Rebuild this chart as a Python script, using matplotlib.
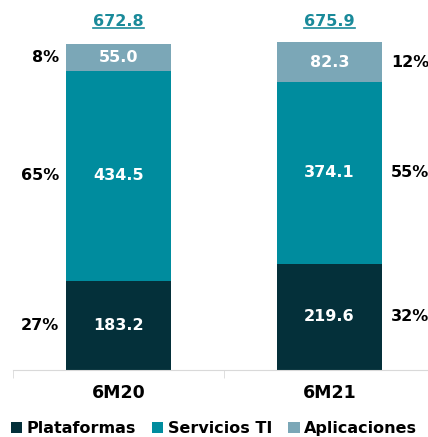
import matplotlib
matplotlib.use("Agg")
from matplotlib import pyplot as plt
from matplotlib.lines import Line2D
import numpy as np

periods = ["6M20", "6M21"]
plataformas = [183.2, 219.6]
servicios = [434.5, 374.1]
aplicaciones = [55.0, 82.3]
totals = ["672.8", "675.9"]
pct_plat = ["27%", "32%"]
pct_serv = ["65%", "55%"]
pct_apl = ["8%", "12%"]

c_plat = "#04303a"
c_serv = "#008c9e"
c_apl = "#7ba7b7"
c_total = "#1a8a9a"

plt.rcParams["font.family"] = ["DejaVu Sans"]

fig = plt.figure(figsize=(4.28, 4.37), dpi=100)
ax = fig.add_axes([13 / 428, 67 / 437, 422 / 428, 339.2 / 437])

x = np.arange(len(periods))
w = 0.5
plat = np.array(plataformas)
serv = np.array(servicios)
apl = np.array(aplicaciones)

ax.bar(x, plat, w, color=c_plat, label="Plataformas")
ax.bar(x, serv, w, bottom=plat, color=c_serv, label="Servicios TI")
ax.bar(x, apl, w, bottom=plat + serv, color=c_apl, label="Aplicaciones")

# values inside the segments
for i in range(len(x)):
    ax.text(x[i], plat[i] / 2, f"{plat[i]:.1f}", ha="center", va="center",
            color="white", fontsize=11.5, fontweight="bold")
    ax.text(x[i], plat[i] + serv[i] / 2, f"{serv[i]:.1f}", ha="center", va="center",
            color="white", fontsize=11.5, fontweight="bold")
    ax.text(x[i], plat[i] + serv[i] + apl[i] / 2, f"{apl[i]:.1f}", ha="center",
            va="center", color="white", fontsize=11.5, fontweight="bold")

# percentages: left of first bar, right of second bar
for i in range(len(x)):
    if i == 0:
        xp, ha = x[i] - w / 2 - 0.03, "right"
    else:
        xp, ha = x[i] + w / 2 + 0.04, "left"
    mids = [plat[i] / 2, plat[i] + serv[i] / 2, plat[i] + serv[i] + apl[i] / 2]
    for m, p in zip(mids, [pct_plat[i], pct_serv[i], pct_apl[i]]):
        ax.text(xp, m, p, ha=ha, va="center", color="black", fontsize=11.5,
                fontweight="bold")

# totals on top
total_texts = []
for i in range(len(x)):
    t = ax.text(x[i], 720, totals[i], ha="center", va="center", color=c_total,
                fontsize=11.5, fontweight="bold", clip_on=False)
    total_texts.append(t)

ax.set_xlim(-0.5, 1.5)
ax.set_ylim(0, 700)
ax.set_yticks([])
ax.set_xticks(x)
ax.set_xticklabels(periods, fontsize=12.5, fontweight="bold")
ax.set_xticks([-0.5, 0.5, 1.5], minor=True)
ax.tick_params(axis="x", which="major", length=0, pad=10)
ax.tick_params(axis="x", which="minor", length=6, color="#d9d9d9", direction="out")
for s in ["top", "right", "left"]:
    ax.spines[s].set_visible(False)
ax.spines["bottom"].set_color("#d9d9d9")

fig.legend(loc="lower center", bbox_to_anchor=(0.5, -0.012), ncol=3, frameon=False,
           prop={"weight": "bold", "size": 11.5}, handlelength=0.7, handleheight=0.7,
           handletextpad=0.3, columnspacing=1.0, borderaxespad=0)

# underline the totals
fig.canvas.draw()
r = fig.canvas.get_renderer()
for t in total_texts:
    bb = t.get_window_extent(renderer=r)
    y0 = bb.y0 + 1
    fig.add_artist(Line2D([bb.x0 / fig.bbox.width, bb.x1 / fig.bbox.width],
                          [y0 / fig.bbox.height, y0 / fig.bbox.height],
                          transform=fig.transFigure, color=c_total, lw=1.2))

fig.savefig("out.png", dpi=100)
plt.close()
